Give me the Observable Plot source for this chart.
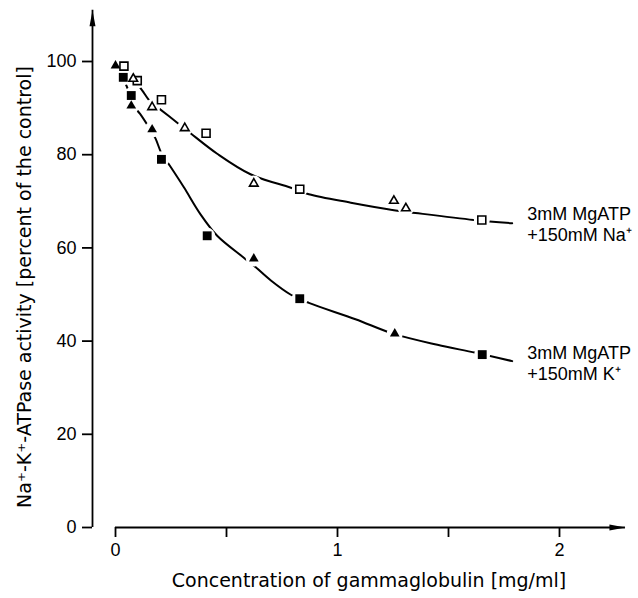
<!DOCTYPE html>
<html><head><meta charset="utf-8">
<script src="https://cdn.jsdelivr.net/npm/d3@7"></script>
<script src="https://cdn.jsdelivr.net/npm/@observablehq/plot@0.6"></script>
<style>body{margin:0;background:#fff}</style>
</head><body><div id="chart"></div>
<script>
// Na+ series (open markers)
const naSquareX = [0.038, 0.098, 0.207, 0.408, 0.83, 1.65];
const naSquareY = [99.0, 95.9, 91.8, 84.6, 72.6, 66.0];
const naTriangleX = [0.08, 0.165, 0.312, 0.623, 1.254, 1.308];
const naTriangleY = [96.3, 90.2, 85.7, 73.8, 70.1, 68.5];
const naCurveX = [0.02, 0.04, 0.08, 0.12, 0.158, 0.194, 0.285, 0.338, 0.458, 0.608, 0.79, 0.871, 1.06, 1.254, 1.351, 1.614, 1.787];
const naCurveY = [99.6, 98.6, 96.3, 93.8, 91.3, 90.0, 86.6, 84.6, 80.2, 75.8, 72.9, 71.5, 69.7, 68.1, 67.5, 66.0, 65.3];
// K+ series (filled markers)
const kSquareX = [0.035, 0.071, 0.207, 0.413, 0.83, 1.652];
const kSquareY = [96.6, 92.7, 79.0, 62.6, 49.1, 37.1];
const kTriangleX = [0.0, 0.071, 0.165, 0.623, 1.258];
const kTriangleY = [99.1, 90.5, 85.4, 57.7, 41.6];
const kCurveX = [0.0, 0.035, 0.062, 0.08, 0.11, 0.15, 0.18, 0.207, 0.248, 0.308, 0.383, 0.458, 0.578, 0.623, 0.7, 0.788, 0.871, 1.081, 1.25, 1.45, 1.622, 1.787];
const kCurveY = [99.3, 96.3, 93.3, 90.6, 88.8, 85.9, 83.5, 80.3, 77.4, 73.0, 67.2, 62.6, 57.9, 56.2, 53.0, 50.0, 48.2, 44.7, 41.6, 39.2, 37.5, 35.7];
// labels and ticks
const naLabel = "3mM MgATP\n+150mM Na\u207A";
const kLabel = "3mM MgATP\n+150mM K\u207A";
const xTicks = [0, 0.5, 1, 1.5, 2];
const yTicks = [0, 20, 40, 60, 80, 100];
const xTitle = "Concentration of gammaglobulin [mg/ml]";
const yTitle = "Na\u207A-K\u207A-ATPase activity [percent of the control]";
const xAxisEnd = 2.297;
const yAxisEnd = 111;

const zip = (xs, ys) => xs.map((x, i) => ({x, y: ys[i]}));
const naSq = zip(naSquareX, naSquareY), naTr = zip(naTriangleX, naTriangleY);
const kSq = zip(kSquareX, kSquareY), kTr = zip(kTriangleX, kTriangleY);
const naCurve = zip(naCurveX, naCurveY), kCurve = zip(kCurveX, kCurveY);
const allPts = [...naSq, ...naTr, ...kSq, ...kTr];

const arrowUp = {draw(ctx) { ctx.moveTo(0, 0); ctx.lineTo(3, 16); ctx.lineTo(-3, 16); ctx.closePath(); }};
const titleFont = "'DejaVu Sans', sans-serif";

const chart = Plot.plot({
  width: 638, height: 598,
  marginLeft: 92, marginRight: 13, marginTop: 10, marginBottom: 71,
  style: {fontFamily: "'Liberation Sans', Arial, sans-serif", fontSize: "18px", color: "black", background: "white"},
  x: {domain: [0, 2], range: [115, 559]},
  y: {domain: [0, 100], range: [527, 61]},
  marks: [
    Plot.ruleY([0], {x1: 0, x2: xAxisEnd, strokeWidth: 1.8}),
    Plot.ruleX([0], {y1: 0, y2: yAxisEnd, dx: -23, strokeWidth: 1.8}),
    Plot.dot([{x: xAxisEnd, y: 0}], {x: "x", y: "y", symbol: arrowUp, rotate: 90, fill: "black", stroke: "none"}),
    Plot.dot([{x: 0, y: yAxisEnd}], {x: "x", y: "y", dx: -23, symbol: arrowUp, fill: "black", stroke: "none"}),
    Plot.axisX({ticks: xTicks, tickSize: 10, tickPadding: 6, strokeWidth: 1.8, tickFormat: d => Number.isInteger(d) ? d : "", label: null}),
    Plot.axisY({ticks: yTicks, tickSize: 10, tickPadding: 6, strokeWidth: 1.8, label: null}),
    Plot.line(naCurve, {x: "x", y: "y", curve: "catmull-rom", strokeWidth: 2}),
    Plot.line(kCurve, {x: "x", y: "y", curve: "catmull-rom", strokeWidth: 2}),
    Plot.dot(allPts, {x: "x", y: "y", r: 8, fill: "white", stroke: "none"}),
    Plot.dot(naSq, {x: "x", y: "y", symbol: "square", r: 4.5, fill: "white", stroke: "black", strokeWidth: 1.6}),
    Plot.dot(naTr, {x: "x", y: "y", symbol: "triangle", r: 3.2, fill: "white", stroke: "black", strokeWidth: 1.6}),
    Plot.dot(kSq, {x: "x", y: "y", symbol: "square", r: 5, fill: "black", stroke: "none"}),
    Plot.dot(kTr, {x: "x", y: "y", symbol: "triangle", r: 3.6, fill: "black", stroke: "none"}),
    Plot.text([naCurve[naCurve.length - 1]], {x: "x", y: "y", text: () => naLabel, textAnchor: "start", lineAnchor: "middle", lineHeight: 1.17, dx: 15, dy: 1, fill: "black"}),
    Plot.text([kCurve[kCurve.length - 1]], {x: "x", y: "y", text: () => kLabel, textAnchor: "start", lineAnchor: "middle", lineHeight: 1.17, dx: 15, dy: 2, fill: "black"}),
    Plot.text([xTitle], {frameAnchor: "bottom", text: d => d, textAnchor: "middle", dx: 10, dy: 53, lineAnchor: "middle", fill: "black", fontFamily: titleFont, fontSize: 19}),
    Plot.text([yTitle], {frameAnchor: "left", text: d => d, textAnchor: "middle", rotate: -90, dx: -68, dy: 18, lineAnchor: "middle", fill: "black", fontFamily: titleFont, fontSize: 19})
  ]
});
document.getElementById("chart").append(chart);
</script></body></html>
